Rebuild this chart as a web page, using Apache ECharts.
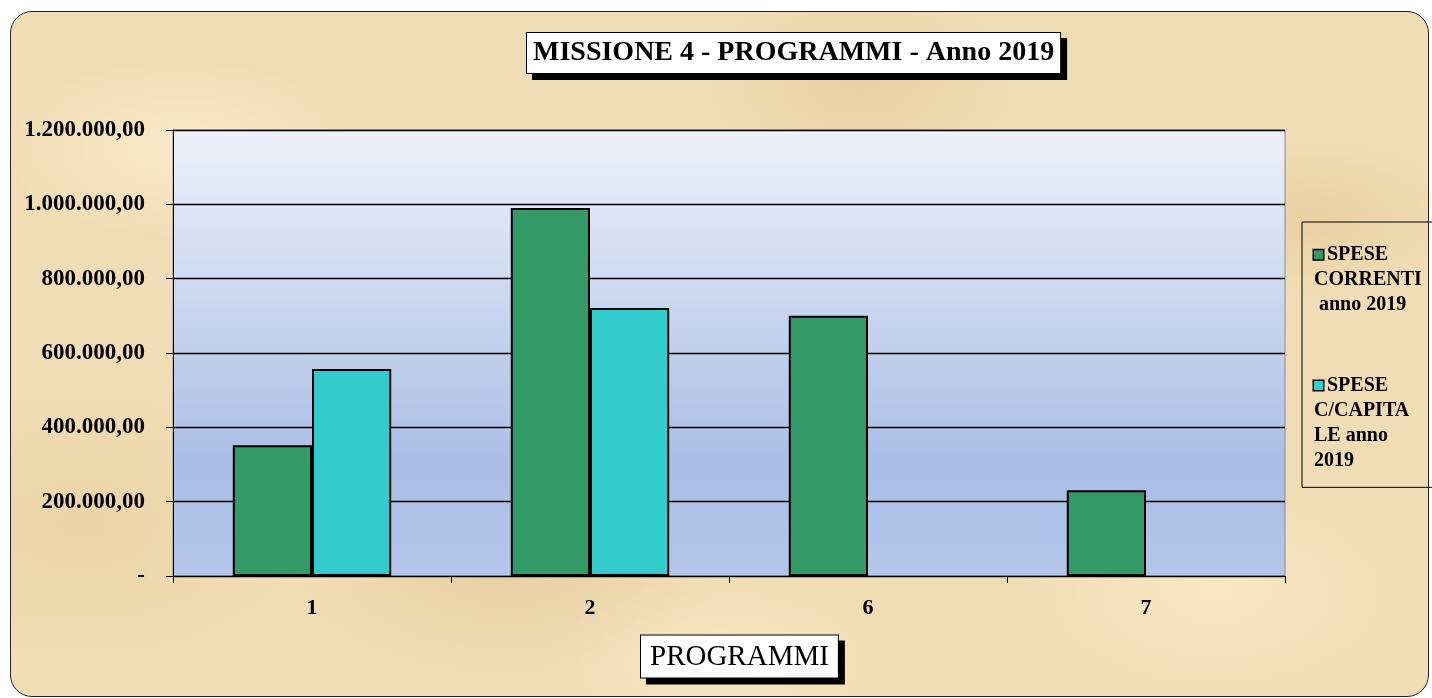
<!DOCTYPE html>
<html>
 <head>
  <title>Missione 4 - Programmi</title>
  <script src="https://cdn.jsdelivr.net/npm/echarts@6/dist/echarts.min.js"></script>
  <style>
    html, body {
    width: 100%;
    height: 100%;
    margin: 0;
    padding: 0;
    background: #fff;
    }
    #paper {
    position: absolute;
    left: 10px; top: 11px; width: 1417px; height: 684px;
    border: 1px solid #222;
    border-radius: 22px;
    background-color: #f1ddb5;
    background-image:
      radial-gradient(ellipse 180px 90px at 12% 20%, rgba(255,240,210,0.7), transparent),
      radial-gradient(ellipse 220px 120px at 35% 80%, rgba(220,190,140,0.45), transparent),
      radial-gradient(ellipse 160px 100px at 60% 10%, rgba(225,195,145,0.5), transparent),
      radial-gradient(ellipse 200px 110px at 85% 85%, rgba(255,238,205,0.6), transparent),
      radial-gradient(ellipse 150px 80px at 92% 30%, rgba(222,192,140,0.45), transparent),
      radial-gradient(ellipse 240px 140px at 5% 75%, rgba(228,200,150,0.45), transparent),
      radial-gradient(ellipse 180px 90px at 50% 95%, rgba(255,240,210,0.5), transparent);
    }
    #container {
    position: absolute;
    left: 0; top: 0; width: 1432px; height: 698px;
    }
  </style>
 </head>

<body>
  <div id="paper"></div>
  <div id="container"></div>
  <script>
    var categories = ['1', '2', '6', '7'];
    var speseCorrenti = [352000, 990000, 700000, 231000];
    var speseCapitale = [557000, 721000, null, null];
    var seriesNames = ['SPESE CORRENTI anno 2019', 'SPESE C/CAPITALE anno 2019'];
    var legendLines = [
      ['SPESE', 'CORRENTI', ' anno 2019'],
      ['SPESE', 'C/CAPITA', 'LE anno', '2019']
    ];

    var serif = '"Liberation Serif", "DejaVu Serif", serif';

    function fmt(v) {
      if (v === 0) return '-';
      var s = Math.round(v).toString().replace(/\B(?=(\d{3})+(?!\d))/g, '.');
      return s + ',00';
    }

    // white box with a hard black drop shadow (title and axis caption)
    function boxed(size, bold, pad) {
      return {
        fontFamily: serif,
        fontWeight: bold ? 'bold' : 'normal',
        fontSize: size,
        lineHeight: size + 2,
        height: size + 2,
        color: '#000',
        backgroundColor: '#fff',
        borderColor: '#000',
        borderWidth: 1,
        padding: pad,
        shadowColor: '#000',
        shadowOffsetX: 6,
        shadowOffsetY: 6,
        shadowBlur: 0
      };
    }

    var chart = echarts.init(document.getElementById('container'));

    var option = {
      backgroundColor: 'transparent',
      animation: false,
      title: [
        {
          text: '{b|MISSIONE 4 - PROGRAMMI - Anno 2019}',
          left: 527,
          top: 38,
          padding: 0,
          textStyle: { fontSize: 28, lineHeight: 30, rich: { b: boxed(28, true, [5, 6, 5, 6]) } }
        },
        {
          text: '{b|PROGRAMMI}',
          left: 641,
          top: 641,
          padding: 0,
          textStyle: { fontSize: 29, lineHeight: 31, rich: { b: boxed(29, false, [6, 9, 5, 9]) } }
        }
      ],
      legend: {
        orient: 'vertical',
        left: 1302,
        top: 222,
        padding: [17, 40, 11, 6],
        itemGap: 49,
        itemWidth: 0,
        itemHeight: 0,
        borderColor: '#000',
        borderWidth: 1,
        data: seriesNames,
        formatter: function (name) {
          var i = seriesNames.indexOf(name);
          var lines = legendLines[i];
          return lines.map(function (l, k) {
            return (k === 0 ? '{sq' + i + '|}{gap|}' : '') + '{t|' + l + '}';
          }).join('\n');
        },
        textStyle: {
          fontFamily: serif,
          fontWeight: 'bold',
          fontSize: 20,
          lineHeight: 25,
          color: '#000',
          rich: {
            t: { fontFamily: serif, fontWeight: 'bold', fontSize: 20, lineHeight: 25, color: '#000' },
            gap: { width: 4, lineHeight: 25 },
            sq0: { width: 9, height: 9, backgroundColor: '#339966', borderColor: '#000', borderWidth: 1.5, lineHeight: 25 },
            sq1: { width: 9, height: 9, backgroundColor: '#33cccc', borderColor: '#000', borderWidth: 1.5, lineHeight: 25 }
          }
        }
      },
      grid: {
        left: 173,
        top: 130,
        right: 147,
        bottom: 122,
        outerBoundsMode: 'none',
        containLabel: false,
        show: true,
        borderColor: '#8a8a8a',
        borderWidth: 1,
        backgroundColor: {
          type: 'linear', x: 0, y: 0, x2: 0, y2: 1,
          colorStops: [
            { offset: 0, color: '#eef1fa' },
            { offset: 0.75, color: '#aabee6' },
            { offset: 1, color: '#b4c6ea' }
          ]
        }
      },
      xAxis: {
        type: 'category',
        data: categories,
        axisLine: { lineStyle: { color: '#000', width: 1 } },
        axisTick: { show: true, length: 7, lineStyle: { color: '#000' } },
        axisLabel: {
          fontFamily: serif,
          fontWeight: 'bold',
          fontSize: 22,
          color: '#000',
          margin: 15
        },
        splitLine: { show: false }
      },
      yAxis: {
        type: 'value',
        min: 0,
        max: 1200000,
        interval: 200000,
        axisLine: { show: true, lineStyle: { color: '#000', width: 1 } },
        axisTick: { show: true, length: 7, lineStyle: { color: '#000' } },
        axisLabel: {
          fontFamily: serif,
          fontWeight: 'bold',
          fontSize: 23,
          color: '#000',
          margin: 28,
          formatter: fmt
        },
        splitLine: { show: true, lineStyle: { color: '#000', width: 1.3 } }
      },
      series: [
        {
          name: seriesNames[0],
          type: 'bar',
          data: speseCorrenti,
          barGap: '0%',
          barCategoryGap: '43%',
          itemStyle: { color: '#339966', borderColor: '#000', borderWidth: 2 }
        },
        {
          name: seriesNames[1],
          type: 'bar',
          data: speseCapitale,
          itemStyle: { color: '#33cccc', borderColor: '#000', borderWidth: 2 }
        }
      ]
    };

    chart.setOption(option);
  </script>
</body>
</html>
